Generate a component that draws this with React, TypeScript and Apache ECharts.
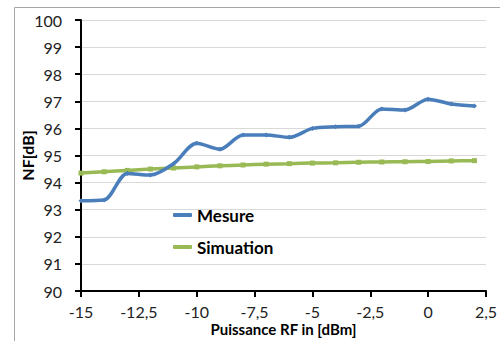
import React, { useEffect, useRef } from "react";
import * as echarts from "echarts";

const xValues = [-15, -14, -13, -12, -11, -10, -9, -8, -7, -6, -5, -4, -3, -2, -1, 0, 1, 2];
const mesure = [93.33, 93.36, 94.34, 94.28, 94.7, 95.45, 95.23, 95.76, 95.76, 95.67, 96.0, 96.06, 96.08, 96.72, 96.68, 97.08, 96.9, 96.83];
const simulation = [94.35, 94.4, 94.45, 94.5, 94.54, 94.58, 94.62, 94.65, 94.68, 94.7, 94.72, 94.73, 94.75, 94.76, 94.77, 94.78, 94.8, 94.81];
const seriesNames = ["Mesure", "Simuation"];
const xAxisTitle = "Puissance RF in [dBm]";
const yAxisTitle = "NF[dB]";

const FONT = "Lato, 'Open Sans', sans-serif";

export default function App() {
  const ref = useRef<HTMLDivElement>(null);
  useEffect(() => {
    if (!ref.current) return;
    const chart = echarts.init(ref.current, null, { renderer: "svg" });
    const fmt = (v: number) => String(v).replace(".", ",");
    chart.setOption({
      animation: false,
      backgroundColor: "#ffffff",
      textStyle: { fontFamily: FONT },
      graphic: [
        {
          type: "rect",
          shape: { x: 14.5, y: 7.5, width: 520, height: 360 },
          style: { fill: "none", stroke: "#a6a6a6", lineWidth: 1 },
          z: -1,
        },
      ],
      grid: { left: 81, right: 14, top: 20, bottom: 50, containLabel: false, outerBoundsMode: "none" },
      legend: {
        orient: "vertical",
        left: 168,
        top: 200,
        itemGap: 12,
        itemWidth: 19,
        itemHeight: 4,
        icon: "roundRect",
        data: seriesNames,
        textStyle: { fontFamily: FONT, fontSize: 17, fontWeight: "bold", color: "#000", lineHeight: 20 },
      },
      xAxis: {
        type: "value",
        min: -15,
        max: 2.5,
        interval: 2.5,
        name: xAxisTitle,
        nameLocation: "middle",
        nameGap: 30,
        nameMoveOverlap: false,
        nameTextStyle: { fontFamily: FONT, fontSize: 15, fontWeight: "bold", color: "#000", lineHeight: 15 },
        axisLine: { onZero: false, lineStyle: { color: "#000", width: 2 } },
        axisTick: { show: true, length: 6, lineStyle: { color: "#000", width: 2 } },
        axisLabel: { formatter: fmt, fontFamily: FONT, fontSize: 16, color: "#222", margin: 12 },
        splitLine: { show: false },
      },
      yAxis: {
        type: "value",
        min: 90,
        max: 100,
        interval: 1,
        name: yAxisTitle,
        nameLocation: "middle",
        nameGap: 46,
        nameMoveOverlap: false,
        nameRotate: 90,
        nameTextStyle: { fontFamily: FONT, fontSize: 16, fontWeight: "bold", color: "#000" },
        axisLine: { show: true, onZero: false, lineStyle: { color: "#000", width: 2 } },
        axisTick: { show: true, length: 6, lineStyle: { color: "#000", width: 2 } },
        axisLabel: { fontFamily: FONT, fontSize: 16, color: "#222", margin: 19 },
        splitLine: { show: true, lineStyle: { color: "#d9d9d9", width: 1 } },
      },
      series: [
        {
          name: seriesNames[0],
          type: "line",
          smooth: 0.3,
          data: xValues.map((x, i) => [x, mesure[i]]),
          symbol: "diamond",
          symbolSize: 5,
          lineStyle: { color: "#4a7ebb", width: 3.5 },
          itemStyle: { color: "#4a7ebb" },
          z: 3,
        },
        {
          name: seriesNames[1],
          type: "line",
          smooth: 0.3,
          data: xValues.map((x, i) => [x, simulation[i]]),
          symbol: "rect",
          symbolSize: 5,
          lineStyle: { color: "#98b954", width: 3.5 },
          itemStyle: { color: "#98b954" },
          z: 2,
        },
      ],
    });
    return () => chart.dispose();
  }, []);
  return <div ref={ref} style={{ width: 500, height: 341, position: "absolute", left: 0, top: 0 }} />;
}
